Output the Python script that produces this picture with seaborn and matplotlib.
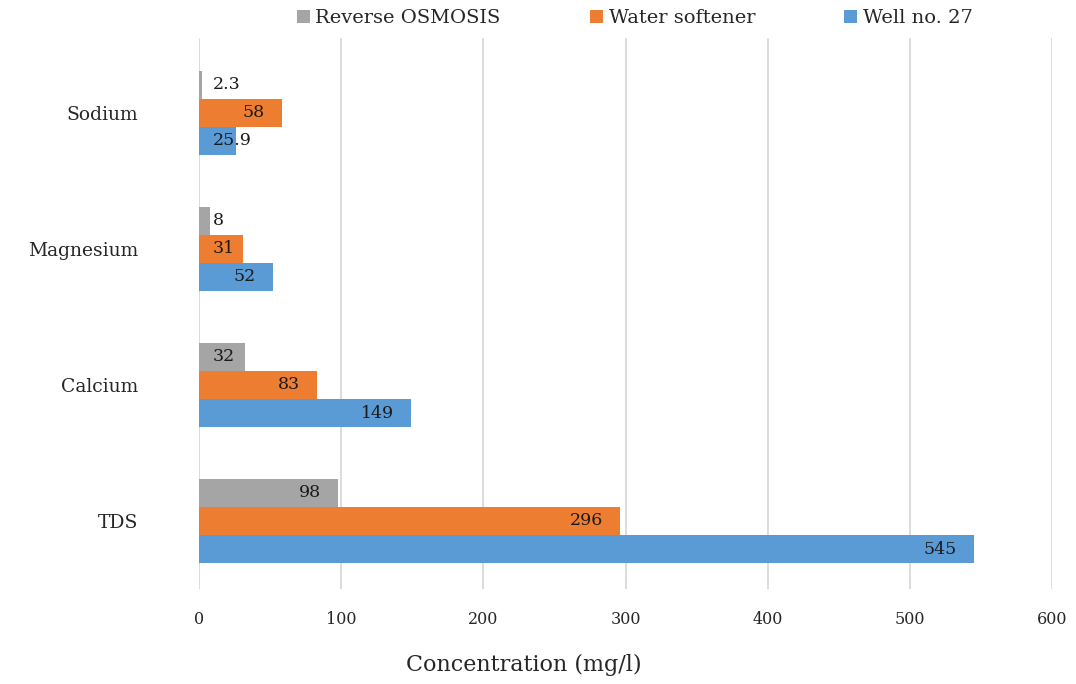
import matplotlib
matplotlib.use("Agg")
import matplotlib.pyplot as plt
import seaborn as sns
import pandas as pd
from matplotlib.patches import Patch

categories = ["Sodium", "Magnesium", "Calcium", "TDS"]
series_names = ["Reverse OSMOSIS", "Water softener", "Well no. 27"]
reverse_osmosis = [2.3, 8, 32, 98]
water_softener = [58, 31, 83, 296]
well_27 = [25.9, 52, 149, 545]
value_labels = {
    "Reverse OSMOSIS": ["2.3", "8", "32", "98"],
    "Water softener": ["58", "31", "83", "296"],
    "Well no. 27": ["25.9", "52", "149", "545"],
}
x_ticks = [0, 100, 200, 300, 400, 500, 600]
colors = ["#A5A5A5", "#ED7D31", "#5B9BD5"]

rows = []
for name, vals in zip(series_names, [reverse_osmosis, water_softener, well_27]):
    for c, v in zip(categories, vals):
        rows.append({"Category": c, "Series": name, "Value": v})
df = pd.DataFrame(rows)

sns.set_theme(style="white")
plt.rcParams["font.family"] = ["DejaVu Serif"]

fig = plt.figure(figsize=(10.76, 6.84), dpi=100)
ax = fig.add_axes([0.185, 0.1389, 0.793, 0.8056])

sns.barplot(data=df, y="Category", x="Value", hue="Series", order=categories,
            hue_order=series_names, palette=colors, orient="h", width=0.62,
            saturation=1, ax=ax, legend=False, edgecolor="none", linewidth=0)

ax.set_xlim(0, 600)
ax.set_ylim(3.5, -0.55)
ax.set_xticks(x_ticks)
ax.set_xticklabels([str(t) for t in x_ticks], fontsize=11.5)
ax.grid(axis="x", color="#D9D9D9", linewidth=1.3)
ax.set_axisbelow(True)
for s in ax.spines.values():
    s.set_visible(False)
ax.tick_params(axis="x", length=0, pad=16)
ax.tick_params(axis="y", length=0, pad=44, labelsize=13.5)
ax.set_ylabel("")
ax.set_xlabel("Concentration (mg/l)", fontsize=16)
ax.xaxis.set_label_coords(0.381, -0.118)

fig.canvas.draw()
renderer = fig.canvas.get_renderer()
px_per_unit = ax.transData.transform((1, 0))[0] - ax.transData.transform((0, 0))[0]
pad_end = 17 / px_per_unit      # gap between label and bar end
min_left = 14 / px_per_unit     # minimal gap between label and axis base
for container, name in zip(ax.containers, series_names):
    for bar, lab in zip(container, value_labels[name]):
        w = bar.get_width()
        yc = bar.get_y() + bar.get_height() / 2
        t = ax.text(w, yc, lab, ha="right", va="center", fontsize=12.5, color="#1a1a1a")
        tw = t.get_window_extent(renderer).width / px_per_unit
        t.set_x(max(w - pad_end, min_left + tw))

handles = [Patch(facecolor=c, edgecolor="none") for c in colors]
fig.legend(handles, series_names, loc="upper center", bbox_to_anchor=(0.590, 1.012),
           ncol=3, frameon=False, fontsize=14, handlelength=0.65, handleheight=0.65,
           handletextpad=0.3, columnspacing=4.6)

fig.savefig("out.png", dpi=100)
